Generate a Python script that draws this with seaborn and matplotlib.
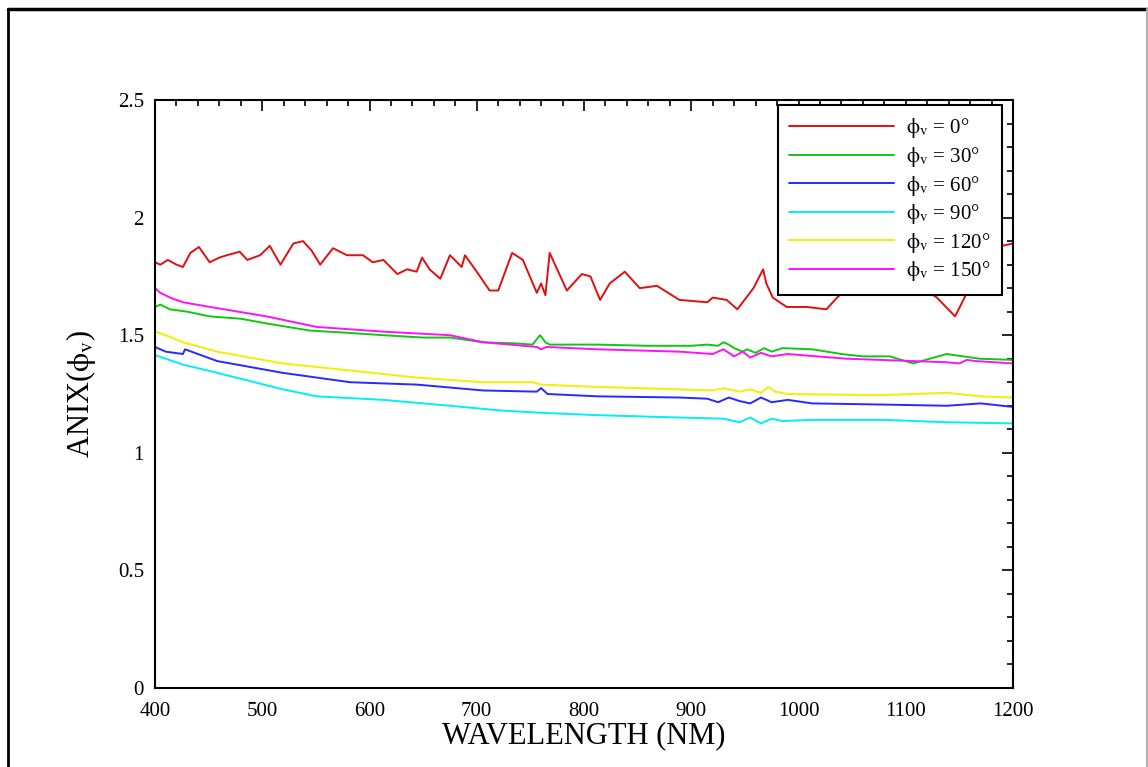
import matplotlib
matplotlib.use("Agg")
import matplotlib.pyplot as plt
import matplotlib.ticker as mticker
from matplotlib.lines import Line2D
import seaborn as sns
import pandas as pd

# ---------------- data ----------------
red_x = [400, 405, 412, 420, 426, 433, 441, 451, 460, 467, 479, 486, 498, 507, 517, 529, 538, 546, 554, 566,
         579, 594, 603, 613, 626, 635, 644, 649, 656, 666, 675, 686, 689, 700, 712, 720, 733, 743, 756, 760,
         764, 768, 775, 784, 798, 806, 815, 824, 838, 852, 868, 889, 915, 920, 933, 943, 948, 958, 967, 970,
         976, 989, 1008, 1026, 1036, 1050, 1080, 1110, 1129, 1146, 1157, 1175, 1190, 1200]
red_y = [1.81, 1.80, 1.82, 1.80, 1.79, 1.85, 1.875, 1.81, 1.83, 1.84, 1.855, 1.82, 1.84, 1.88, 1.80, 1.89, 1.90, 1.86, 1.80, 1.87,
         1.84, 1.84, 1.81, 1.82, 1.76, 1.78, 1.77, 1.83, 1.78, 1.74, 1.84, 1.79, 1.84, 1.77, 1.69, 1.69, 1.85, 1.82, 1.68, 1.72,
         1.67, 1.85, 1.78, 1.69, 1.76, 1.75, 1.65, 1.72, 1.77, 1.70, 1.71, 1.65, 1.64, 1.66, 1.65, 1.61, 1.64, 1.70, 1.78, 1.72,
         1.66, 1.62, 1.62, 1.61, 1.66, 1.72, 1.75, 1.72, 1.66, 1.58, 1.68, 1.78, 1.88, 1.89]

green_x = [400, 405, 414, 430, 451, 480, 504, 544, 580, 613, 650, 675, 706, 737, 752, 759, 764, 768, 790, 813,
           859, 900, 915, 925, 930, 935, 940, 948, 952, 960, 968, 975, 985, 1013, 1040, 1060, 1085, 1107, 1138, 1169, 1200]
green_y = [1.62, 1.63, 1.61, 1.60, 1.58, 1.57, 1.55, 1.52, 1.51, 1.50, 1.49, 1.49, 1.47, 1.465, 1.46, 1.50, 1.47, 1.46, 1.46, 1.46,
           1.455, 1.455, 1.46, 1.455, 1.47, 1.46, 1.445, 1.43, 1.44, 1.425, 1.445, 1.43, 1.445, 1.44, 1.42, 1.41, 1.41, 1.38, 1.42, 1.40, 1.395]

blue_x = [400, 410, 426, 428, 458, 519, 582, 644, 706, 756, 760, 766, 813, 889, 915, 925, 935, 945, 955, 965,
          975, 990, 1013, 1080, 1138, 1170, 1200]
blue_y = [1.45, 1.43, 1.42, 1.44, 1.39, 1.34, 1.30, 1.29, 1.265, 1.26, 1.275, 1.25, 1.24, 1.235, 1.23, 1.215, 1.235, 1.22, 1.21, 1.235,
          1.215, 1.225, 1.21, 1.205, 1.20, 1.21, 1.195]

cyan_x = [400, 410, 426, 458, 519, 551, 613, 675, 722, 760, 813, 889, 930, 945, 955, 965, 975, 985, 1013, 1080, 1138, 1200]
cyan_y = [1.415, 1.40, 1.375, 1.34, 1.27, 1.24, 1.225, 1.20, 1.18, 1.17, 1.16, 1.15, 1.145, 1.13, 1.15, 1.125, 1.145, 1.135, 1.14, 1.14, 1.13, 1.125]

yellow_x = [400, 410, 426, 458, 519, 582, 644, 706, 752, 760, 813, 889, 920, 930, 945, 955, 965, 972, 978, 990, 1076, 1138, 1170, 1200]
yellow_y = [1.515, 1.50, 1.47, 1.43, 1.38, 1.35, 1.32, 1.30, 1.30, 1.29, 1.28, 1.27, 1.265, 1.275, 1.26, 1.27, 1.255, 1.28, 1.26, 1.25,
            1.245, 1.255, 1.24, 1.235]

magenta_x = [400, 405, 414, 426, 458, 504, 551, 613, 675, 706, 756, 760, 765, 813, 889, 920, 930, 940, 948, 955,
             965, 975, 990, 1045, 1138, 1150, 1157, 1165, 1200]
magenta_y = [1.70, 1.68, 1.66, 1.64, 1.615, 1.58, 1.535, 1.515, 1.50, 1.47, 1.45, 1.44, 1.45, 1.44, 1.43, 1.42, 1.44, 1.41, 1.43, 1.405,
             1.425, 1.41, 1.42, 1.40, 1.385, 1.38, 1.395, 1.39, 1.38]

angles = ["0", "30", "60", "90", "120", "150"]
series_x = [red_x, green_x, blue_x, cyan_x, yellow_x, magenta_x]
series_y = [red_y, green_y, blue_y, cyan_y, yellow_y, magenta_y]
colors = ["#e01010", "#10c810", "#2828ff", "#00f0f0", "#f0f000", "#ff10ff"]

x_ticks = [400, 500, 600, 700, 800, 900, 1000, 1100, 1200]
y_ticks = [0, 0.5, 1, 1.5, 2, 2.5]
y_tick_labels = ["0", "0.5", "1", "1.5", "2", "2.5"]

# ---------------- build long table ----------------
frames = []
for a, xs, ys in zip(angles, series_x, series_y):
    frames.append(pd.DataFrame({"wl": xs, "anix": ys, "angle": a}))
df = pd.concat(frames, ignore_index=True)

sns.set_theme(style="white")
plt.rcParams["font.family"] = ["Liberation Serif", "DejaVu Serif"]
plt.rcParams["mathtext.fontset"] = "stix"
plt.rcParams["text.color"] = "black"
plt.rcParams["axes.labelcolor"] = "black"
plt.rcParams["xtick.color"] = "black"
plt.rcParams["ytick.color"] = "black"

fig = plt.figure(figsize=(11.48, 7.67), dpi=100)
ax = fig.add_axes([155 / 1148, 1 - 688 / 767, (1013 - 155) / 1148, (688 - 100) / 767])

sns.lineplot(data=df, x="wl", y="anix", hue="angle", hue_order=angles,
             palette=dict(zip(angles, colors)), estimator=None, sort=False,
             linewidth=1.4, ax=ax, legend=False)

ax.set_xlim(400, 1200)
ax.set_ylim(0, 2.5)
ax.set_xticks(x_ticks)
ax.set_yticks(y_ticks)
ax.set_yticklabels(y_tick_labels)
ax.xaxis.set_minor_locator(mticker.MultipleLocator(20))
ax.yaxis.set_minor_locator(mticker.MultipleLocator(0.1))
ax.tick_params(which="both", direction="in", top=True, right=True, colors="black",
               labelcolor="black", labelsize=15, width=1.2)
ax.tick_params(which="major", length=8)
ax.tick_params(axis="x", which="major", pad=10)
ax.tick_params(axis="y", which="major", pad=8)
ax.tick_params(which="minor", length=4)
for s in ax.spines.values():
    s.set_visible(True)
    s.set_color("black")
    s.set_linewidth(1.5)

ax.set_xlabel("WAVELENGTH (NM)", fontsize=22, labelpad=0, color="black")
ax.set_ylabel(r"ANIX($\mathrm{\phi}_\mathrm{v}$)", fontsize=22, labelpad=14, color="black")

handles = [Line2D([0], [0], color=c, lw=1.4) for c in colors]
labels = [r"$\mathrm{\phi}_\mathrm{v}$" + " = " + a + "°" for a in angles]
leg = ax.legend(handles, labels, loc="upper right", bbox_to_anchor=(0.987, 0.9915),
                borderaxespad=0, fontsize=15, handlelength=5.0, handletextpad=0.6,
                labelspacing=0.22, frameon=True, fancybox=False, framealpha=1,
                borderpad=0.55)
leg.get_frame().set_edgecolor("black")
leg.get_frame().set_linewidth(1.5)

# outer border of the figure
fig.add_artist(Line2D([8 / 1148, 8 / 1148], [0, 1 - 9 / 767], transform=fig.transFigure, color="black", lw=2))
fig.add_artist(Line2D([8 / 1148, 1147 / 1148], [1 - 9 / 767, 1 - 9 / 767], transform=fig.transFigure, color="black", lw=2.5))
fig.add_artist(Line2D([1146.5 / 1148, 1146.5 / 1148], [0, 1 - 9 / 767], transform=fig.transFigure, color="#b0b0b0", lw=1.5))

fig.savefig("out.png", dpi=100)
